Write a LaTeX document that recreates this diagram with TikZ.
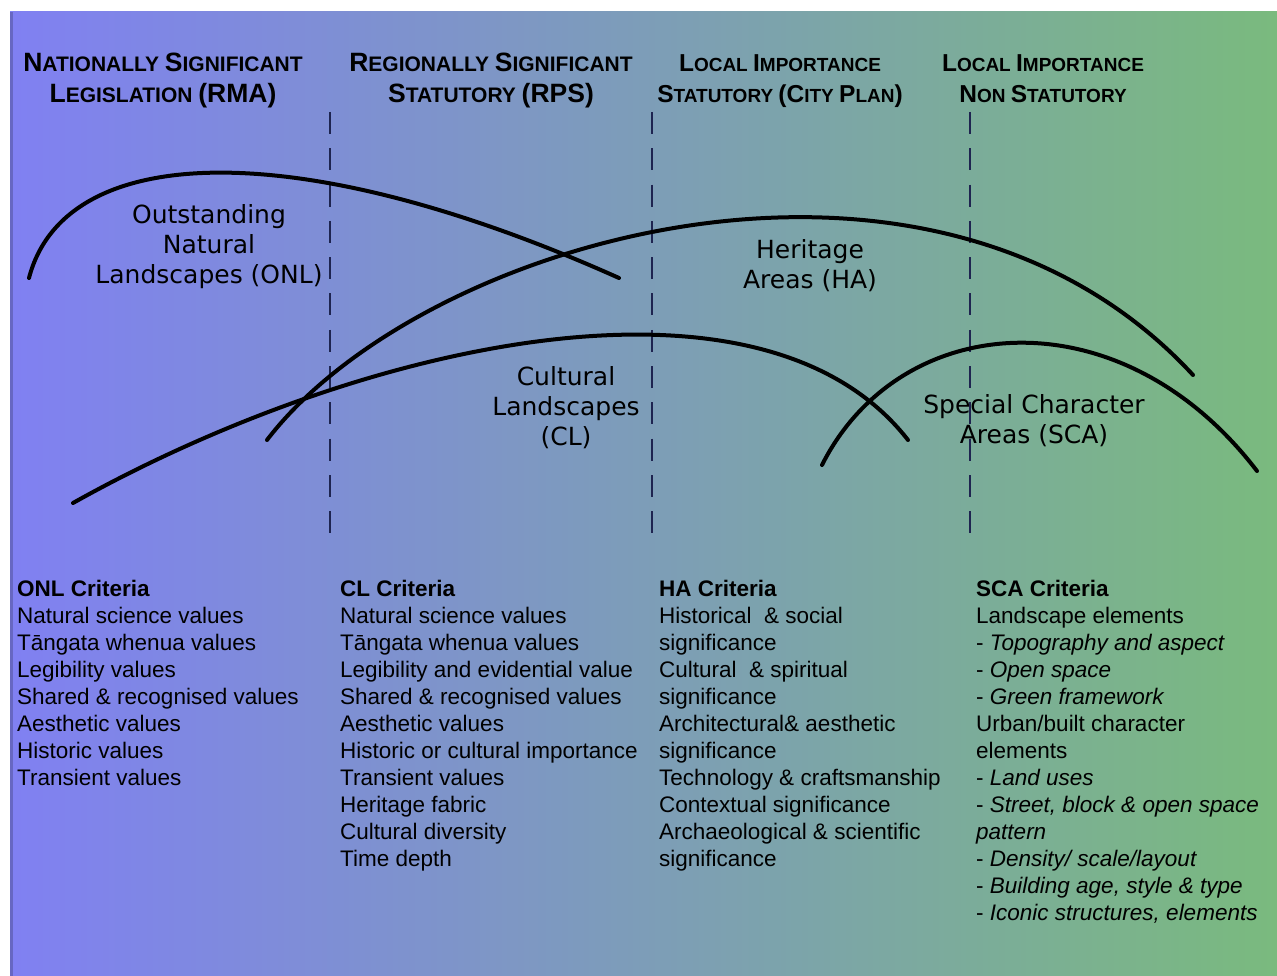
\documentclass[tikz,border=0pt]{standalone}
\usepackage{fontspec}
\setmainfont{Liberation Sans}
\newfontfamily\comicfont{DejaVu Sans}
\definecolor{bgL}{RGB}{128,128,242}
\definecolor{bgM}{RGB}{126,160,200}
\definecolor{bgR}{RGB}{122,186,126}
\definecolor{dashcol}{RGB}{30,36,80}
% fake small caps: big letters and small letters
\newcommand\hB{\fontsize{26.5}{26.5}\selectfont}
\newcommand\hS{\fontsize{21}{21}\selectfont}
\newcommand\hBr{\fontsize{24.5}{24.5}\selectfont}
\newcommand\hSr{\fontsize{19}{19}\selectfont}
\newcommand\itm[1]{-\ \textit{#1}}
\tikzset{
  header/.style={anchor=base, font=\bfseries, inner sep=0pt},
  divider/.style={draw=dashcol, line width=1.8pt, dash pattern=on 22pt off 14.3pt},
  curve/.style={draw=black, line width=4pt, line cap=round},
  arealabel/.style={align=center, inner sep=0pt, font=\comicfont\fontsize{25}{30}\selectfont},
  criteria/.style={anchor=north west, align=left, inner sep=0pt, font=\fontsize{22.5}{27}\selectfont},
}
\begin{document}
\begin{tikzpicture}[x=1pt,y=-1pt]
\useasboundingbox (0,0) rectangle (1277,976);
\fill[white] (0,0) rectangle (1277,976);
\shade[left color=bgL, middle color=bgM, right color=bgR] (10,12) rectangle (1277,976);
\fill[bgL!80!black] (10,12) rectangle (12.5,976);

% headers
\node[header] (h1a) at (163,72) {\hB N\hS ATIONALLY \hB S\hS IGNIFICANT};
\node[header] (h1b) at (163,103) {\hB L\hS EGISLATION \hB (RMA)};
\node[header] (h2a) at (491,72) {\hB R\hS EGIONALLY \hB S\hS IGNIFICANT};
\node[header] (h2b) at (491,103) {\hB S\hS TATUTORY \hB (RPS)};
\node[header] (h3a) at (780,72) {\hBr L\hSr OCAL \hBr I\hSr MPORTANCE};
\node[header] (h3b) at (780,103) {\hBr S\hSr TATUTORY \hBr (C\hSr ITY \hBr P\hSr LAN\hBr )};
\node[header] (h4a) at (1043,72) {\hBr L\hSr OCAL \hBr I\hSr MPORTANCE};
\node[header] (h4b) at (1043,103) {\hBr N\hSr ON \hBr S\hSr TATUTORY};

% dividers
\coordinate (d1t) at (330,112); \coordinate (d1b) at (330,533);
\coordinate (d2t) at (652,112); \coordinate (d2b) at (652,533);
\coordinate (d3t) at (970,112); \coordinate (d3b) at (970,533);
\draw[divider] (d1t) -- (d1b);
\draw[divider] (d2t) -- (d2b);
\draw[divider] (d3t) -- (d3b);

% curves
\coordinate (onlA) at (29,278); \coordinate (onlB) at (619,278);
\coordinate (haA) at (267,440); \coordinate (haB) at (1193,375);
\coordinate (clA) at (73,503); \coordinate (clB) at (908,440);
\coordinate (scaA) at (822,465); \coordinate (scaB) at (1257,471);
\draw[curve] (onlA) .. controls (65,140) and (300,135) .. (onlB);
\draw[curve] (haA) .. controls (420,240) and (930,90) .. (haB);
\draw[curve] (clA) .. controls (355,345) and (760,250) .. (clB);
\draw[curve] (scaA) .. controls (900,310) and (1120,292) .. (scaB);

% area labels
\node[arealabel] (onl) at (209,247) {Outstanding\\Natural\\Landscapes (ONL)};
\node[arealabel] (ha) at (810,266) {Heritage\\Areas (HA)};
\node[arealabel] (cl) at (566,408) {Cultural\\Landscapes\\(CL)};
\node[arealabel] (sca) at (1034,421) {Special Character\\Areas (SCA)};

% criteria
\node[criteria] (c1) at (17,580) {\textbf{ONL Criteria}\\
Natural science values\\
T\={a}ngata whenua values\\
Legibility values\\
Shared \& recognised values\\
Aesthetic values\\
Historic values\\
Transient values};
\node[criteria] (c2) at (340,580) {\textbf{CL Criteria}\\
Natural science values\\
T\={a}ngata whenua values\\
Legibility and evidential value\\
Shared \& recognised values\\
Aesthetic values\\
Historic or cultural importance\\
Transient values\\
Heritage fabric\\
Cultural diversity\\
Time depth};
\node[criteria] (c3) at (659,580) {\textbf{HA Criteria}\\
Historical\ \ \& social\\
significance\\
Cultural\ \ \& spiritual\\
significance\\
Architectural\& aesthetic\\
significance\\
Technology \& craftsmanship\\
Contextual significance\\
Archaeological \& scientific\\
significance};
\node[criteria] (c4) at (976,580) {\textbf{SCA Criteria}\\
Landscape elements\\
\itm{Topography and aspect}\\
\itm{Open space}\\
\itm{Green framework}\\
Urban/built character\\
elements\\
\itm{Land uses}\\
\itm{Street, block \& open space}\\
\textit{pattern}\\
\itm{Density/ scale/layout}\\
\itm{Building age, style \& type}\\
\itm{Iconic structures, elements}};
\end{tikzpicture}
\end{document}
